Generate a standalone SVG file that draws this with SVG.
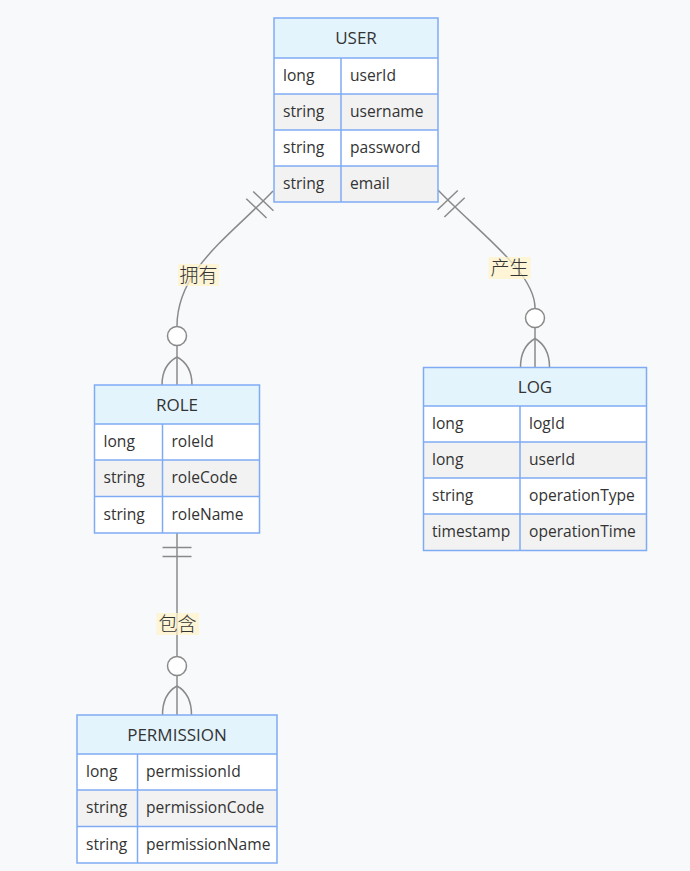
<svg xmlns="http://www.w3.org/2000/svg" width="690" height="871" viewBox="0 0 690 871">
  <style>
    .bg { fill: #f8f9fb; }
    .head { fill: #e4f4fd; }
    .odd { fill: #ffffff; }
    .even { fill: #f2f2f2; }
    .frame { fill: none; stroke: #7fabf5; stroke-width: 1.5; }
    .grid { stroke: #7fabf5; stroke-width: 1.5; }
    .title { font-family: "Open Sans", "DejaVu Sans", sans-serif; font-size: 17px; fill: #333333; text-anchor: middle; }
    .cell { font-family: "Open Sans", "DejaVu Sans", sans-serif; font-size: 15.6px; fill: #333333; }
    .rel { fill: none; stroke: #8a8a8a; stroke-width: 1.5; }
    .ring { fill: #ffffff; stroke: #8a8a8a; stroke-width: 1.5; }
    .lblbox { fill: #fff3c8; opacity: 0.75; }
    .lbl { font-family: "Noto Sans CJK SC", "Noto Sans", sans-serif; font-size: 19px; font-weight: 300; fill: #333333; text-anchor: middle; }
  </style>

  <rect class="bg" x="0" y="0" width="690" height="871"/>

  <!-- relationship lines and cardinality markers -->
  <g id="connectors">
    <!-- USER one to zero-or-many ROLE: 拥有 -->
    <g id="rel-user-role">
      <path class="rel" d="M273,191 C230,236 177,270 177,326 L177,385"/>
      <g transform="translate(273,191) rotate(133.7)">
        <line class="rel" x1="14" y1="-14" x2="14" y2="14"/>
        <line class="rel" x1="24" y1="-14" x2="24" y2="14"/>
      </g>
      <circle class="ring" cx="177" cy="336" r="9.5"/>
      <path class="rel" d="M177,357 Q162,365 162,385 M177,357 Q192,365 192,385"/>
      <rect class="lblbox" x="178" y="264" width="41" height="22"/>
      <text class="lbl" x="198.5" y="282">拥有</text>
    </g>
    <!-- USER one to zero-or-many LOG: 产生 -->
    <g id="rel-user-log">
      <path class="rel" d="M438,190 C478,232 535,272 535,308 L535,367"/>
      <g transform="translate(438,190) rotate(46.5)">
        <line class="rel" x1="14" y1="-14" x2="14" y2="14"/>
        <line class="rel" x1="24" y1="-14" x2="24" y2="14"/>
      </g>
      <circle class="ring" cx="535" cy="318" r="9.5"/>
      <path class="rel" d="M535,338.5 Q520.5,347 520.5,367 M535,338.5 Q549.5,347 549.5,367"/>
      <rect class="lblbox" x="488.5" y="257" width="42" height="22"/>
      <text class="lbl" x="509.5" y="275">产生</text>
    </g>
    <!-- ROLE one to zero-or-many PERMISSION: 包含 -->
    <g id="rel-role-permission">
      <path class="rel" d="M177,533 L177,715"/>
      <line class="rel" x1="162.5" y1="547.5" x2="191.5" y2="547.5"/>
      <line class="rel" x1="162.5" y1="556.5" x2="191.5" y2="556.5"/>
      <circle class="ring" cx="177" cy="666" r="9.5"/>
      <path class="rel" d="M177,686 Q162.5,694 162.5,715 M177,686 Q191.5,694 191.5,715"/>
      <rect class="lblbox" x="156.5" y="613" width="42.5" height="22"/>
      <text class="lbl" x="177.5" y="631">包含</text>
    </g>
  </g>

  <!-- USER entity -->
  <g id="USER">
    <rect class="head" x="274" y="18" width="164" height="40"/>
    <rect class="odd" x="274" y="58" width="164" height="36"/>
    <rect class="even" x="274" y="94" width="164" height="36"/>
    <rect class="odd" x="274" y="130" width="164" height="36"/>
    <rect class="even" x="274" y="166" width="164" height="36"/>
    <line class="grid" x1="274" y1="58" x2="438" y2="58"/>
    <line class="grid" x1="274" y1="94" x2="438" y2="94"/>
    <line class="grid" x1="274" y1="130" x2="438" y2="130"/>
    <line class="grid" x1="274" y1="166" x2="438" y2="166"/>
    <line class="grid" x1="341" y1="58" x2="341" y2="202"/>
    <rect class="frame" x="274" y="18" width="164" height="184"/>
    <text class="title" x="356" y="44">USER</text>
    <text class="cell" x="283" y="81">long</text>
    <text class="cell" x="350" y="81">userId</text>
    <text class="cell" x="283" y="117">string</text>
    <text class="cell" x="350" y="117">username</text>
    <text class="cell" x="283" y="153">string</text>
    <text class="cell" x="350" y="153">password</text>
    <text class="cell" x="283" y="189">string</text>
    <text class="cell" x="350" y="189">email</text>
  </g>

  <!-- LOG entity -->
  <g id="LOG">
    <rect class="head" x="423.5" y="367.5" width="223" height="38.5"/>
    <rect class="odd" x="423.5" y="406" width="223" height="36"/>
    <rect class="even" x="423.5" y="442" width="223" height="36"/>
    <rect class="odd" x="423.5" y="478" width="223" height="36"/>
    <rect class="even" x="423.5" y="514" width="223" height="36.5"/>
    <line class="grid" x1="423.5" y1="406" x2="646.5" y2="406"/>
    <line class="grid" x1="423.5" y1="442" x2="646.5" y2="442"/>
    <line class="grid" x1="423.5" y1="478" x2="646.5" y2="478"/>
    <line class="grid" x1="423.5" y1="514" x2="646.5" y2="514"/>
    <line class="grid" x1="520" y1="406" x2="520" y2="550.5"/>
    <rect class="frame" x="423.5" y="367.5" width="223" height="183"/>
    <text class="title" x="535" y="392.5">LOG</text>
    <text class="cell" x="432" y="429">long</text>
    <text class="cell" x="529" y="429">logId</text>
    <text class="cell" x="432" y="465">long</text>
    <text class="cell" x="529" y="465">userId</text>
    <text class="cell" x="432" y="501">string</text>
    <text class="cell" x="529" y="501">operationType</text>
    <text class="cell" x="432" y="537">timestamp</text>
    <text class="cell" x="529" y="537">operationTime</text>
  </g>

  <!-- ROLE entity -->
  <g id="ROLE">
    <rect class="head" x="94.5" y="385" width="165" height="39"/>
    <rect class="odd" x="94.5" y="424" width="165" height="36"/>
    <rect class="even" x="94.5" y="460" width="165" height="36.5"/>
    <rect class="odd" x="94.5" y="496.5" width="165" height="36.5"/>
    <line class="grid" x1="94.5" y1="424" x2="259.5" y2="424"/>
    <line class="grid" x1="94.5" y1="460" x2="259.5" y2="460"/>
    <line class="grid" x1="94.5" y1="496.5" x2="259.5" y2="496.5"/>
    <line class="grid" x1="162.5" y1="424" x2="162.5" y2="533"/>
    <rect class="frame" x="94.5" y="385" width="165" height="148"/>
    <text class="title" x="177" y="410.5">ROLE</text>
    <text class="cell" x="103.5" y="447">long</text>
    <text class="cell" x="171.5" y="447">roleId</text>
    <text class="cell" x="103.5" y="483">string</text>
    <text class="cell" x="171.5" y="483">roleCode</text>
    <text class="cell" x="103.5" y="520">string</text>
    <text class="cell" x="171.5" y="520">roleName</text>
  </g>

  <!-- PERMISSION entity -->
  <g id="PERMISSION">
    <rect class="head" x="77" y="715" width="200" height="39"/>
    <rect class="odd" x="77" y="754" width="200" height="36"/>
    <rect class="even" x="77" y="790" width="200" height="36.5"/>
    <rect class="odd" x="77" y="826.5" width="200" height="36.5"/>
    <line class="grid" x1="77" y1="754" x2="277" y2="754"/>
    <line class="grid" x1="77" y1="790" x2="277" y2="790"/>
    <line class="grid" x1="77" y1="826.5" x2="277" y2="826.5"/>
    <line class="grid" x1="137.5" y1="754" x2="137.5" y2="863"/>
    <rect class="frame" x="77" y="715" width="200" height="148"/>
    <text class="title" x="177" y="740.5">PERMISSION</text>
    <text class="cell" x="86" y="777">long</text>
    <text class="cell" x="146" y="777">permissionId</text>
    <text class="cell" x="86" y="813">string</text>
    <text class="cell" x="146" y="813">permissionCode</text>
    <text class="cell" x="86" y="850">string</text>
    <text class="cell" x="146" y="850">permissionName</text>
  </g>
</svg>
